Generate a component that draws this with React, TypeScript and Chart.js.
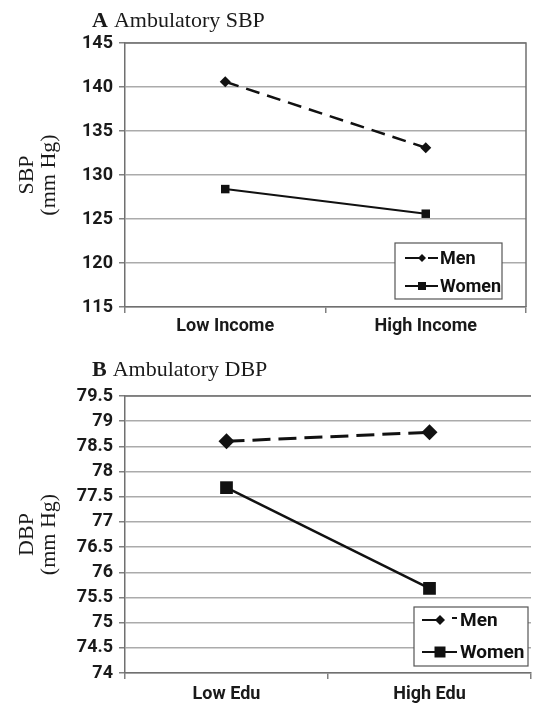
import React, { useEffect, useRef } from 'react';
import { Chart, registerables } from 'chart.js';

Chart.register(...registerables);

// ---- data ----
const incomeCategories = ['Low Income', 'High Income'];
const sbpMen = [140.6, 133.1];
const sbpWomen = [128.4, 125.6];
const sbpAxis = [115, 145, 5]; // min, max, step

const eduCategories = ['Low Edu', 'High Edu'];
const dbpMen = [78.6, 78.78];
const dbpWomen = [77.68, 75.68];
const dbpAxis = [74, 79.5, 0.5]; // min, max, step

const seriesNames = ['Men', 'Women'];

const TICK_FONT = { family: 'Roboto', size: 18, weight: 'bold' as const };
const SERIF = 'Liberation Serif, "Times New Roman", serif';

const framePlugin = {
  id: 'frame',
  beforeDatasetsDraw(chart: any, _a: any, opts: any) {
    const { ctx, chartArea } = chart;
    ctx.save();
    ctx.strokeStyle = '#707070';
    ctx.lineWidth = 1.5;
    ctx.beginPath();
    ctx.moveTo(chartArea.left, chartArea.top);
    ctx.lineTo(chartArea.right, chartArea.top);
    if (opts.right) {
      ctx.lineTo(chartArea.right, chartArea.bottom);
    }
    ctx.stroke();
    ctx.restore();
  },
};

const boxLegendPlugin = {
  id: 'boxLegend',
  afterDraw(chart: any, _a: any, o: any) {
    const { ctx, chartArea } = chart;
    const x0 = chartArea.right + o.dx;
    const y0 = chartArea.bottom + o.dy;
    ctx.save();
    ctx.fillStyle = '#ffffff';
    ctx.fillRect(x0, y0, o.w, o.h);
    ctx.strokeStyle = '#555555';
    ctx.lineWidth = 1.2;
    ctx.setLineDash([]);
    ctx.strokeRect(x0, y0, o.w, o.h);
    chart.data.datasets.forEach((ds: any, i: number) => {
      const y = y0 + o.rows[i];
      const mx = x0 + o.markerX;
      ctx.strokeStyle = '#111111';
      ctx.fillStyle = '#111111';
      ctx.lineWidth = 2;
      ctx.beginPath();
      if (ds.pointStyle === 'rectRot') {
        ctx.moveTo(x0 + o.lineStart, y);
        ctx.lineTo(mx, y);
        ctx.moveTo(x0 + o.dashStart, y - o.dashLift);
        ctx.lineTo(x0 + o.lineEnd, y - o.dashLift);
      } else {
        ctx.moveTo(x0 + o.lineStart, y);
        ctx.lineTo(x0 + o.lineEnd, y);
      }
      ctx.stroke();
      const r = o.markerR[i];
      ctx.beginPath();
      if (ds.pointStyle === 'rectRot') {
        ctx.moveTo(mx - r, y);
        ctx.lineTo(mx, y - r);
        ctx.lineTo(mx + r, y);
        ctx.lineTo(mx, y + r);
        ctx.closePath();
      } else {
        ctx.rect(mx - r, y - r, 2 * r, 2 * r);
      }
      ctx.fill();
      ctx.font = `bold ${o.fontSize}px Roboto`;
      ctx.textBaseline = 'middle';
      ctx.textAlign = 'left';
      ctx.fillText(ds.label, x0 + o.textX, y + 1);
    });
    ctx.restore();
  },
};

function makeConfig(p: {
  labels: string[];
  men: number[];
  women: number[];
  axis: number[];
  yTitle: string[];
  xHeight: number;
  xPad: number;
  padTop: number;
  padRight: number;
  menWidth: number;
  womenWidth: number;
  dash: number[];
  menR: number;
  womenR: number;
  frameRight: boolean;
  legend: any;
}): any {
  return {
    type: 'line',
    data: {
      labels: p.labels,
      datasets: [
        {
          label: seriesNames[0],
          data: p.men,
          borderColor: '#111111',
          backgroundColor: '#111111',
          borderWidth: p.menWidth,
          borderDash: p.dash,
          pointStyle: 'rectRot',
          pointRadius: p.menR,
          pointBorderWidth: 0,
          tension: 0,
        },
        {
          label: seriesNames[1],
          data: p.women,
          borderColor: '#111111',
          backgroundColor: '#111111',
          borderWidth: p.womenWidth,
          pointStyle: 'rect',
          pointRadius: p.womenR,
          pointBorderWidth: 0,
          tension: 0,
        },
      ],
    },
    options: {
      responsive: false,
      animation: false,
      devicePixelRatio: 1,
      layout: { padding: { left: 8, top: p.padTop, right: p.padRight, bottom: 0 } },
      plugins: {
        legend: { display: false },
        tooltip: { enabled: false },
        frame: { right: p.frameRight },
        boxLegend: p.legend,
      },
      scales: {
        x: {
          type: 'category',
          offset: true,
          grid: {
            offset: true,
            drawOnChartArea: false,
            drawTicks: true,
            tickLength: 6,
            color: '#808080',
            lineWidth: 1.5,
          },
          border: { color: '#707070', width: 1.5 },
          ticks: { font: TICK_FONT, color: '#1a1a1a', padding: p.xPad, maxRotation: 0 },
          afterFit: (s: any) => {
            s.height = p.xHeight;
          },
        },
        y: {
          min: p.axis[0],
          max: p.axis[1],
          ticks: {
            stepSize: p.axis[2],
            font: TICK_FONT,
            color: '#1a1a1a',
            padding: 6,
            callback: (v: any) => String(Number(v)),
          },
          grid: {
            color: '#ababab',
            lineWidth: 1.5,
            tickLength: 6,
            tickColor: '#808080',
          },
          border: { color: '#707070', width: 1.5 },
          title: {
            display: true,
            text: p.yTitle,
            font: { family: SERIF, size: 22, lineHeight: 1 },
            color: '#1a1a1a',
            padding: { top: 8, bottom: 0 },
          },
          afterFit: (s: any) => {
            s.width = 117;
          },
        },
      },
    },
    plugins: [framePlugin, boxLegendPlugin],
  };
}

export default function App() {
  const refA = useRef<HTMLCanvasElement>(null);
  const refB = useRef<HTMLCanvasElement>(null);

  useEffect(() => {
    const a = new Chart(
      refA.current as HTMLCanvasElement,
      makeConfig({
        labels: incomeCategories,
        men: sbpMen,
        women: sbpWomen,
        axis: sbpAxis,
        yTitle: ['SBP', '(mm Hg)'],
        xHeight: 38,
        xPad: 3,
        padTop: 43,
        padRight: 14,
        menWidth: 2.5,
        womenWidth: 2,
        dash: [14, 8],
        menR: 5.5,
        womenR: 6,
        frameRight: true,
        legend: {
          dx: -131, dy: -64, w: 107, h: 56,
          rows: [15, 43],
          lineStart: 10, markerX: 27, dashStart: 33, dashLift: 0, lineEnd: 43, textX: 45,
          markerR: [4, 4], fontSize: 18,
        },
      })
    );
    const b = new Chart(
      refB.current as HTMLCanvasElement,
      makeConfig({
        labels: eduCategories,
        men: dbpMen,
        women: dbpWomen,
        axis: dbpAxis,
        yTitle: ['DBP', '(mm Hg)'],
        xHeight: 32,
        xPad: 5,
        padTop: 51,
        padRight: 0,
        menWidth: 3,
        womenWidth: 2.5,
        dash: [18, 8],
        menR: 8,
        womenR: 9,
        frameRight: false,
        legend: {
          dx: -117, dy: -66, w: 114, h: 59,
          rows: [13, 45],
          lineStart: 8, markerX: 26, dashStart: 38, dashLift: 2, lineEnd: 43, textX: 46,
          markerR: [5, 5.5], fontSize: 19,
        },
      })
    );
    return () => {
      a.destroy();
      b.destroy();
    };
  }, []);

  const titleStyle: React.CSSProperties = {
    position: 'absolute',
    left: 92,
    fontFamily: SERIF,
    fontSize: 22,
    lineHeight: '22px',
    color: '#1a1a1a',
    whiteSpace: 'nowrap',
  };

  return (
    <div
      style={{
        position: 'fixed',
        left: 0,
        top: 0,
        width: 540,
        height: 705,
        background: '#ffffff',
        overflow: 'hidden',
      }}
    >
      <canvas
        ref={refA}
        width={540}
        height={345}
        style={{ position: 'absolute', left: 0, top: 0, width: 540, height: 345 }}
      />
      <canvas
        ref={refB}
        width={540}
        height={360}
        style={{ position: 'absolute', left: 0, top: 345, width: 540, height: 360 }}
      />
      <div style={{ ...titleStyle, top: 9 }}>
        <b>A</b>
        <span style={{ marginLeft: 6 }}>Ambulatory SBP</span>
      </div>
      <div style={{ ...titleStyle, top: 358 }}>
        <b>B</b>
        <span style={{ marginLeft: 6 }}>Ambulatory DBP</span>
      </div>
    </div>
  );
}
